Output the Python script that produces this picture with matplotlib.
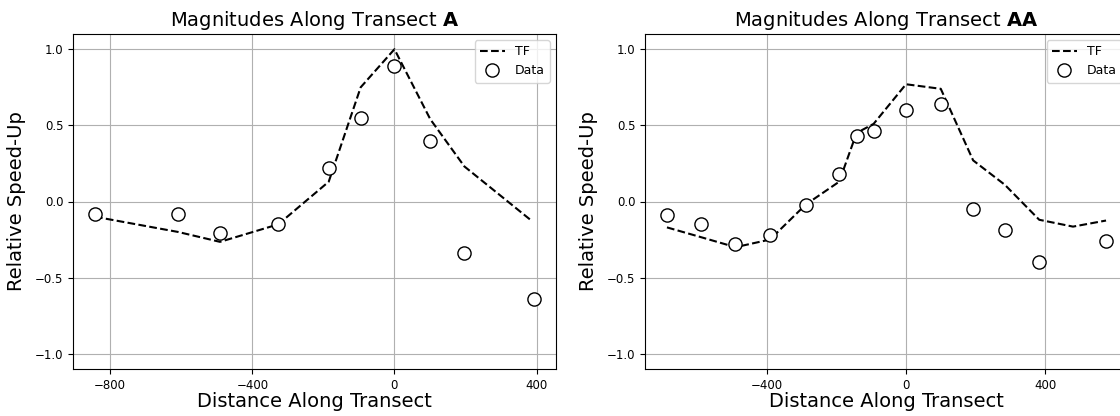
import numpy as np
import matplotlib
matplotlib.use("Agg")
import matplotlib.pyplot as plt
from matplotlib.ticker import MultipleLocator

# Transect A: modelled (TF) and measured speed-up
tf_x_a = [-843, -609, -491, -327, -185, -95, 0, 101, 197, 388]
tf_y_a = [-0.10, -0.20, -0.265, -0.15, 0.13, 0.75, 1.00, 0.54, 0.23, -0.13]
data_x_a = [-843, -609, -491, -327, -185, -95, 0, 101, 197, 393]
data_y_a = [-0.08, -0.08, -0.21, -0.15, 0.22, 0.55, 0.89, 0.40, -0.34, -0.64]

# Transect AA
tf_x_aa = [-687, -588, -490, -391, -288, -192, -142, -93, 0, 100, 193, 284, 383, 480, 575]
tf_y_aa = [-0.17, -0.235, -0.30, -0.25, -0.02, 0.13, 0.45, 0.51, 0.77, 0.74, 0.27, 0.11, -0.12, -0.165, -0.125]
data_x_aa = [-687, -588, -490, -391, -288, -192, -142, -93, 0, 100, 193, 284, 383, 575]
data_y_aa = [-0.09, -0.15, -0.28, -0.22, -0.02, 0.18, 0.43, 0.46, 0.60, 0.64, -0.05, -0.19, -0.40, -0.26]

transects = [
    ("A", tf_x_a, tf_y_a, data_x_a, data_y_a),
    ("AA", tf_x_aa, tf_y_aa, data_x_aa, data_y_aa),
]

fig = plt.figure(figsize=(11.2, 4.16), dpi=100)
positions = [
    [73 / 1120, 47 / 416, 483 / 1120, 335 / 416],
    [645 / 1120, 47 / 416, 483 / 1120, 335 / 416],
]

for pos, (name, tx, ty, dx, dy) in zip(positions, transects):
    ax = fig.add_axes(pos)
    ax.plot(tx, ty, "k--", lw=1.5, label="TF")
    ax.plot(dx, dy, "o", mfc="white", mec="black", ms=9.5, mew=1.0, label="Data")
    ax.set_ylim(-1.1, 1.1)
    ax.xaxis.set_major_locator(MultipleLocator(400))
    ax.yaxis.set_major_locator(MultipleLocator(0.5))
    ax.tick_params(labelsize=8.5)
    ax.grid(True, color="#b0b0b0", lw=0.8)
    ax.set_axisbelow(True)
    ax.set_title(r"Magnitudes Along Transect $\bf{" + name + "}$", fontsize=14, pad=6)
    ax.set_xlabel("Distance Along Transect", fontsize=14, labelpad=0)
    ax.set_ylabel("Relative Speed-Up", fontsize=14, labelpad=6)
    ax.legend(loc="upper right", fontsize=9)

fig.savefig("out.png", dpi=100)
